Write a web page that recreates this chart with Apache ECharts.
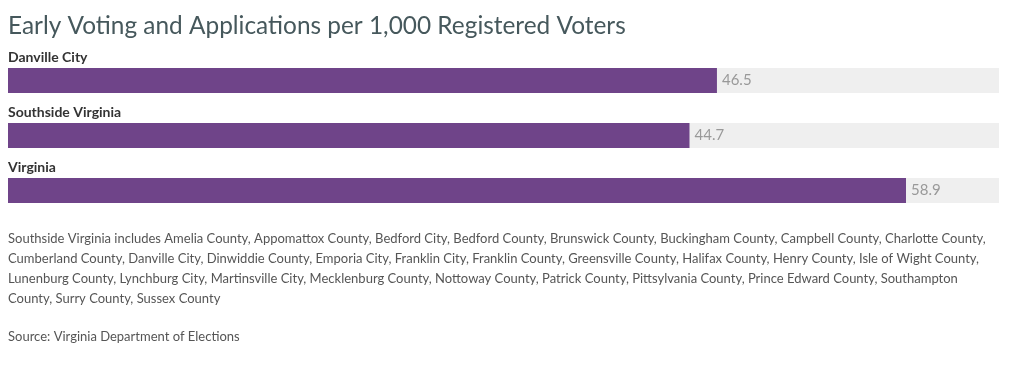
<!DOCTYPE html>
<html>
<head>
<meta charset="utf-8">
<script src="https://cdn.jsdelivr.net/npm/echarts@6/dist/echarts.min.js"></script>
<style>
html, body { margin: 0; padding: 0; background: #fff; }
#chart { width: 1024px; height: 377px; }
</style>
</head>
<body>
<div id="chart"></div>
<script>
var places = ['Danville City', 'Southside Virginia', 'Virginia'];
var perThousand = [46.5, 44.7, 58.9];
var axisMax = 65;

var noteLines = [
    'Southside Virginia includes Amelia County, Appomattox County, Bedford City, Bedford County, Brunswick County, Buckingham County, Campbell County, Charlotte County,',
    'Cumberland County, Danville City, Dinwiddie County, Emporia City, Franklin City, Franklin County, Greensville County, Halifax County, Henry County, Isle of Wight County,',
    'Lunenburg County, Lynchburg City, Martinsville City, Mecklenburg County, Nottoway County, Patrick County, Pittsylvania County, Prince Edward County, Southampton',
    'County, Surry County, Sussex County'
];
var sourceText = 'Source: Virginia Department of Elections';

var myChart = echarts.init(document.getElementById('chart'), null, {renderer: 'canvas'});
var option = {
    animation: false,
    textStyle: { fontFamily: 'Lato' },
    title: {
        text: 'Early Voting and Applications per 1,000 Registered Voters',
        left: 3,
        top: 9,
        textStyle: {
            fontFamily: 'Lato',
            fontSize: 24.4,
            fontWeight: 'normal',
            color: '#46585c'
        }
    },
    grid: {
        left: 8,
        right: 25,
        top: 53,
        height: 165
    },
    xAxis: {
        type: 'value',
        min: 0,
        max: axisMax,
        show: false
    },
    yAxis: {
        type: 'category',
        data: places,
        inverse: true,
        axisLine: { show: false },
        axisTick: { show: false },
        axisLabel: {
            inside: true,
            margin: 0,
            verticalAlign: 'bottom',
            padding: [0, 0, 16, 0],
            fontFamily: 'Lato',
            fontWeight: 'bold',
            fontSize: 14,
            color: '#333'
        }
    },
    series: [
        {
            type: 'bar',
            data: perThousand,
            barWidth: 25,
            itemStyle: { color: '#6f4489' },
            showBackground: true,
            backgroundStyle: { color: '#efefef' },
            label: {
                show: true,
                position: 'right',
                distance: 5,
                fontFamily: 'Lato',
                fontSize: 15,
                color: '#999'
            }
        }
    ],
    graphic: [
        {
            type: 'text',
            left: 8,
            top: 229,
            style: {
                text: noteLines.join('\n'),
                font: '13px Lato',
                lineHeight: 20,
                fill: '#555'
            }
        },
        {
            type: 'text',
            left: 8,
            top: 330,
            style: {
                text: sourceText,
                font: '13px Lato',
                fill: '#555'
            }
        }
    ]
};
myChart.setOption(option);
</script>
</body>
</html>
